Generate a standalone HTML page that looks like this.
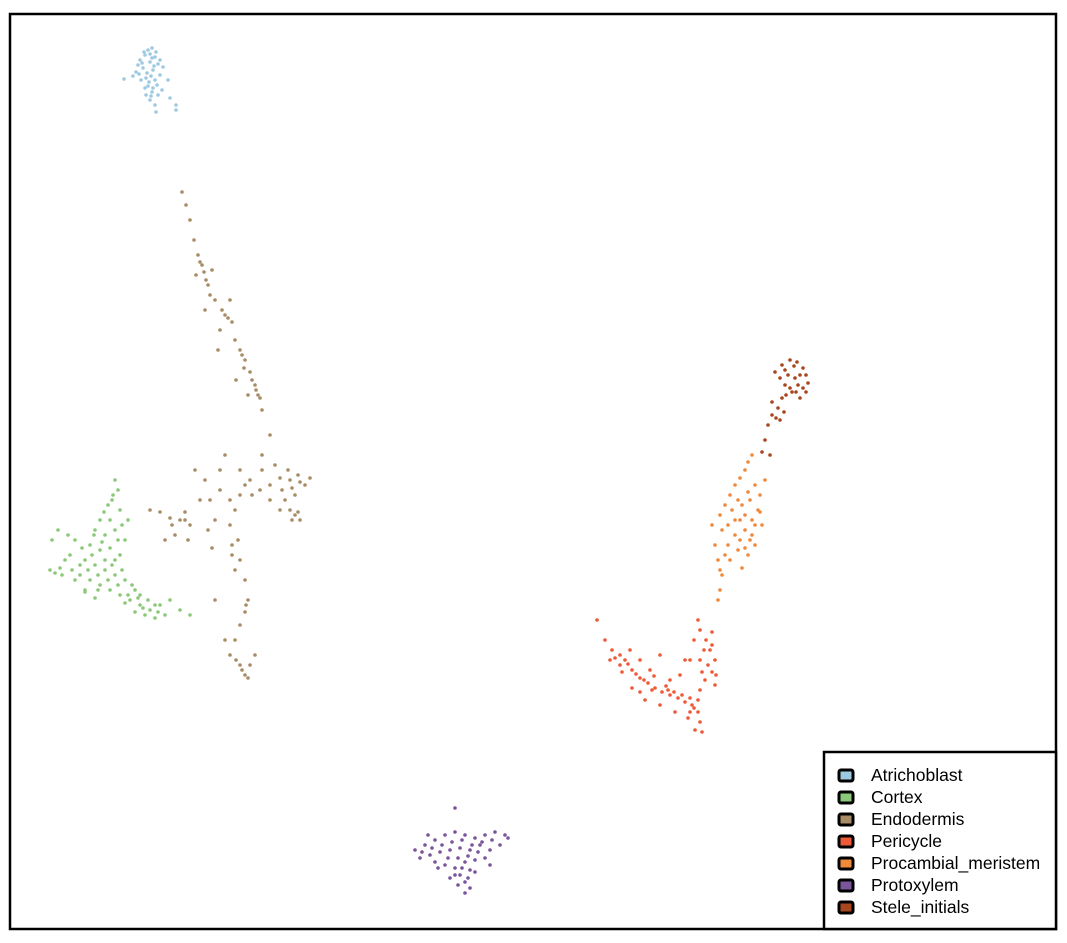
<!DOCTYPE html>
<html><head><meta charset="utf-8"><style>
body{margin:0;background:#fff;font-family:"Liberation Sans",sans-serif}
svg{display:block}
</style></head><body>
<svg id="chart" width="1067" height="943">
<rect x="10" y="14" width="1046" height="915" fill="#fff" stroke="#000" stroke-width="2.5"/>
<g id="marks"></g>
<g>
<rect x="824" y="752" width="232" height="177" fill="#fff" stroke="#000" stroke-width="2.5"/>
<g id="legend-items"></g>
</g>
</svg>
<script>
const categories = ["Atrichoblast","Cortex","Endodermis","Pericycle","Procambial_meristem","Protoxylem","Stele_initials"];
const colors = ["#9ecae1","#8cc87a","#a88c66","#ee5a38","#f0893a","#7a559b","#a8471f"];
const atrichoblast = [[148,50],[152,48],[145,55],[155,57],[140,60],[150,62],[158,64],[143,68],[136,72],[147,73],[153,70],[160,75],[141,80],[149,82],[157,85],[145,88],[152,92],[158,95],[150,100],[155,105],[156,112],[138,65],[163,67],[168,80],[124,79],[133,76],[162,90],[170,98],[146,95],[152,58],[144,52],[150,54],[156,52],[142,63],[154,66],[146,78],[151,76],[155,80],[148,86],[153,88],[151,96],[176,105],[176,110],[139,74],[160,60]];
const cortex = [[115,480],[118,490],[112,500],[120,510],[108,505],[100,520],[95,530],[105,535],[115,530],[90,545],[100,550],[110,548],[120,555],[85,560],[95,565],[105,570],[115,575],[125,580],[80,575],[90,580],[100,585],[110,590],[120,595],[130,600],[140,605],[150,610],[160,605],[170,600],[180,610],[190,615],[145,615],[155,618],[135,612],[50,570],[55,573],[60,568],[65,560],[70,555],[75,580],[85,592],[95,598],[125,540],[128,520],[105,560],[112,565],[135,590],[165,615],[125,603],[58,530],[52,540],[110,520],[118,540],[102,542],[92,555],[98,575],[108,580],[118,585],[128,595],[138,598],[148,600],[155,605],[143,608],[80,565],[72,570],[62,575],[88,570],[113,495],[122,525],[82,548],[75,540],[68,535],[140,595],[158,612],[132,585],[98,590],[85,590],[115,560],[122,570],[104,512],[94,535]];
const endodermis = [[182,192],[186,205],[190,220],[194,240],[198,255],[202,265],[196,275],[206,280],[210,295],[215,300],[222,310],[228,318],[220,330],[235,340],[240,350],[245,360],[250,372],[255,385],[258,395],[248,395],[262,410],[270,435],[236,380],[230,300],[212,270],[205,310],[218,350],[240,470],[250,480],[260,490],[270,485],[280,478],[290,480],[300,482],[310,478],[295,495],[285,500],[295,515],[300,520],[240,495],[235,510],[230,525],[238,540],[232,555],[235,570],[245,580],[248,600],[245,612],[240,625],[235,640],[230,655],[240,665],[245,675],[255,655],[150,510],[160,512],[170,518],[180,520],[190,525],[175,535],[165,540],[210,500],[215,520],[205,480],[220,470],[195,470],[225,640],[215,600],[185,512],[270,500],[280,510],[225,455],[262,470],[200,262],[204,272],[208,285],[225,315],[232,322],[244,368],[252,380],[256,390],[260,398],[242,355],[288,470],[298,475],[305,485],[292,488],[282,490],[290,510],[298,512],[292,520],[245,485],[252,495],[232,545],[240,560],[246,605],[236,660],[242,670],[248,678],[250,665],[230,500],[220,490],[185,520],[172,525],[200,500],[208,530],[188,540],[212,548],[275,465],[262,455]];
const pericycle = [[597,620],[605,640],[612,650],[620,655],[625,660],[632,670],[640,678],[648,683],[655,688],[662,692],[670,695],[678,698],[685,702],[692,705],[698,712],[700,722],[702,732],[700,690],[705,680],[712,672],[715,660],[710,650],[706,640],[712,632],[698,620],[690,660],[680,675],[670,680],[650,670],[640,660],[630,650],[620,665],[632,688],[645,700],[660,705],[675,712],[688,718],[695,730],[610,660],[660,655],[700,660],[715,685],[685,660],[615,658],[628,664],[636,674],[644,680],[652,690],[668,690],[674,692],[682,695],[690,698],[694,708],[698,700],[702,672],[708,665],[716,675],[654,676],[666,686],[622,672],[640,692],[690,712],[704,650],[694,640],[700,630],[712,645]];
const procambial = [[718,600],[720,590],[722,575],[718,560],[715,545],[712,525],[720,515],[725,505],[730,495],[735,485],[740,478],[745,470],[748,462],[752,455],[740,520],[745,530],[750,540],[755,525],[758,510],[750,500],[760,495],[765,480],[735,535],[728,545],[738,550],[748,555],[742,568],[730,560],[755,545],[722,530],[742,505],[732,510],[738,500],[745,515],[752,520],[760,512],[762,525],[735,520],[728,525],[740,540],[752,535],[745,548],[725,555],[720,570],[748,492],[755,485]];
const protoxylem = [[415,850],[425,845],[435,840],[445,835],[455,832],[465,835],[475,838],[485,835],[495,832],[505,835],[500,845],[490,850],[480,845],[470,850],[460,848],[450,850],[440,852],[430,855],[420,858],[435,862],[445,865],[455,868],[465,862],[475,860],[485,858],[460,875],[465,882],[470,888],[465,893],[458,885],[450,878],[475,872],[490,865],[455,808],[428,835],[422,852],[432,848],[442,845],[452,842],[462,840],[472,845],[482,842],[492,840],[448,858],[458,858],[468,856],[478,852],[462,868],[470,870],[455,875],[468,878],[508,838],[438,868]];
const steleInitials = [[790,360],[797,362],[803,368],[806,375],[808,383],[806,392],[800,398],[792,392],[785,385],[780,378],[775,372],[785,370],[795,378],[790,388],[782,398],[778,408],[772,415],[780,420],[768,425],[772,402],[765,440],[762,452],[770,455],[798,385],[794,366],[800,375],[788,375],[782,365],[803,388],[796,392],[786,395],[776,418],[784,412]];
const series = [atrichoblast, cortex, endodermis, pericycle, procambial, protoxylem, steleInitials];
const seriesNames = ["atrichoblast","cortex","endodermis","pericycle","procambial-meristem","protoxylem","stele-initials"];

const xDomain=[0,1067], yDomain=[0,943];
function xScale(v){return (v-xDomain[0])/(xDomain[1]-xDomain[0])*1067;}
function yScale(v){return (v-yDomain[0])/(yDomain[1]-yDomain[0])*943;}
const NS="http://www.w3.org/2000/svg";
const marks=document.getElementById('marks');
series.forEach((pts,si)=>{
  const g=document.createElementNS(NS,'g');
  
  
  pts.forEach(p=>{
    const c=document.createElementNS(NS,'circle');
    c.setAttribute('cx',xScale(p[0]));c.setAttribute('cy',yScale(p[1]));
    c.setAttribute('r',1.8);c.setAttribute('fill',colors[si]);
    
    
    g.appendChild(c);
  });
  marks.appendChild(g);
});
const li=document.getElementById('legend-items');
categories.forEach((name,i)=>{
  const y=775+i*22;
  const g=document.createElementNS(NS,'g');
  
  
  const r=document.createElementNS(NS,'rect');
  r.setAttribute('x',839);r.setAttribute('y',y-5);r.setAttribute('width',14);r.setAttribute('height',11);
  r.setAttribute('rx',2);r.setAttribute('fill',colors[i]);r.setAttribute('stroke','#000');r.setAttribute('stroke-width',3);
  const t=document.createElementNS(NS,'text');
  t.setAttribute('x',871);t.setAttribute('y',y+6);t.setAttribute('font-size',17.5);
  t.setAttribute('font-family','"Liberation Sans",sans-serif');
  t.textContent=name;
  g.appendChild(r);g.appendChild(t);li.appendChild(g);
});
</script>
</body></html>
